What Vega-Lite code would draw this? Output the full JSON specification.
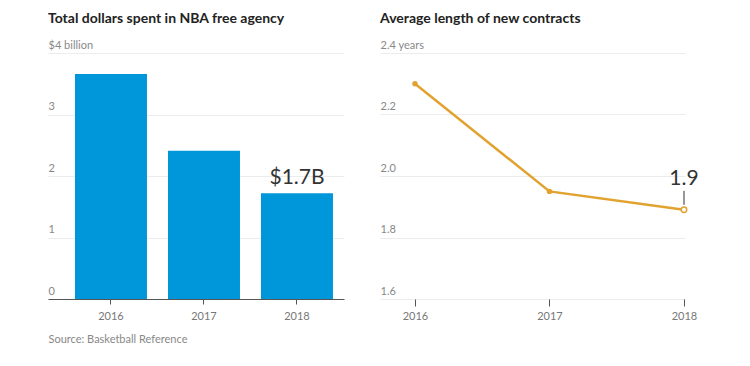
{
  "$schema": "https://vega.github.io/schema/vega-lite/v6.json",
  "background": "white",
  "padding": {"left": 48, "top": 12, "right": 0, "bottom": 0},
  "spacing": 36,
  "config": {
    "view": {"stroke": null},
    "font": "Lato",
    "title": {"anchor": "start", "fontSize": 14, "fontWeight": "bold", "color": "#222", "font": "Lato", "offset": 13},
    "axis": {"labelFont": "Lato", "titleFont": "Lato"}
  },
  "datasets": {
    "dollars": [
      {"year": "2016", "value": 3.66},
      {"year": "2017", "value": 2.41},
      {"year": "2018", "value": 1.72, "label": "$1.7B"}
    ],
    "length": [
      {"year": "2016", "value": 2.30},
      {"year": "2017", "value": 1.95},
      {"year": "2018", "value": 1.89}
    ]
  },
  "hconcat": [
    {
      "width": 296,
      "height": 246,
      "title": {"text": "Total dollars spent in NBA free agency"},
      "data": {"name": "dollars"},
      "encoding": {
        "x": {
          "field": "year", "type": "ordinal",
          "scale": {"type": "band", "paddingInner": 0.226, "paddingOuter": 0.2045, "align": 0.71},
          "axis": {
            "labelAngle": 0, "domain": true, "domainColor": "#555", "domainWidth": 1,
            "ticks": true, "tickColor": "#555", "tickSize": 5,
            "labelColor": "#777", "labelFontSize": 11, "labelPadding": 6,
            "grid": false,
            "title": "Source: Basketball Reference", "titleAnchor": "start", "titleAlign": "left",
            "titleFontWeight": "normal", "titleColor": "#888", "titleFontSize": 11, "titlePadding": 12
          }
        },
        "y": {
          "field": "value", "type": "quantitative",
          "scale": {"domain": [0, 4], "nice": false},
          "axis": {
            "title": null, "values": [0, 1, 2, 3, 4], "ticks": false, "tickSize": 0, "domain": false,
            "labelAlign": "left", "labelBaseline": "alphabetic", "labelPadding": 0, "labelOffset": -5,
            "labelColor": "#888", "labelFontSize": 11,
            "gridColor": "#ececec", "gridWidth": 1,
            "labelExpr": "datum.value == 4 ? '$4 billion' : datum.label"
          }
        }
      },
      "layer": [
        {"mark": {"type": "bar", "color": "#0096DA"}},
        {
          "transform": [{"filter": "isValid(datum.label)"}],
          "mark": {"type": "text", "baseline": "bottom", "dy": -5, "fontSize": 21, "color": "#333", "font": "Lato"},
          "encoding": {"text": {"field": "label"}}
        }
      ]
    },
    {
      "width": 305,
      "height": 246,
      "title": {"text": "Average length of new contracts"},
      "data": {"name": "length"},
      "encoding": {
        "x": {
          "field": "year", "type": "ordinal",
          "scale": {"type": "point", "padding": 0.1338, "align": 0.972},
          "axis": {
            "labelAngle": 0, "domain": false, "ticks": true, "tickColor": "#555", "tickSize": 7,
            "labelColor": "#777", "labelFontSize": 11, "labelPadding": 4, "grid": false, "title": null
          }
        },
        "y": {
          "field": "value", "type": "quantitative",
          "scale": {"domain": [1.6, 2.4], "nice": false, "zero": false},
          "axis": {
            "title": null, "values": [1.6, 1.8, 2.0, 2.2, 2.4], "format": ".1f",
            "ticks": false, "tickSize": 0, "domain": false,
            "labelAlign": "left", "labelBaseline": "alphabetic", "labelPadding": 0, "labelOffset": -5,
            "labelColor": "#888", "labelFontSize": 11,
            "gridColor": "#ececec", "gridWidth": 1,
            "labelExpr": "datum.value > 2.39 ? '2.4 years' : datum.label"
          }
        }
      },
      "layer": [
        {"mark": {"type": "line", "color": "#E2A230", "strokeWidth": 2.5}},
        {
          "transform": [{"filter": "datum.year != '2018'"}],
          "mark": {"type": "point", "filled": true, "color": "#E2A230", "size": 30, "opacity": 1}
        },
        {
          "transform": [{"filter": "datum.year == '2018'"}],
          "mark": {"type": "point", "filled": false, "fill": "white", "stroke": "#E2A230", "strokeWidth": 1.5, "size": 30, "opacity": 1}
        },
        {
          "transform": [{"filter": "datum.year == '2018'"}],
          "mark": {"type": "rule", "color": "#333", "strokeWidth": 1, "yOffset": -5, "y2Offset": -19},
          "encoding": {"y2": {"field": "value"}}
        },
        {
          "transform": [{"filter": "datum.year == '2018'"}],
          "mark": {"type": "text", "baseline": "bottom", "dy": -21, "fontSize": 21, "color": "#333", "font": "Lato"},
          "encoding": {"text": {"field": "value", "format": ".1f"}}
        }
      ]
    }
  ]
}
